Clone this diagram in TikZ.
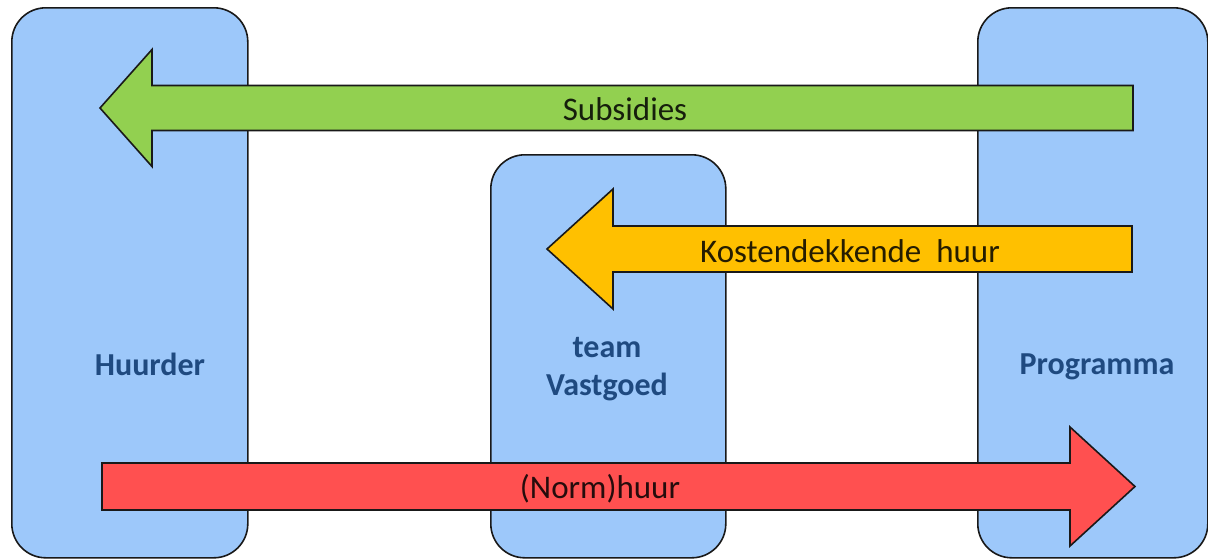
\documentclass[tikz,border=0pt]{standalone}
\usepackage{fontspec}
\setmainfont{Carlito}
\definecolor{boxblue}{HTML}{9DC8FA}
\definecolor{labelblue}{HTML}{1F4A80}
\definecolor{arrgreen}{HTML}{92D050}
\definecolor{arrorange}{HTML}{FFC000}
\definecolor{arrred}{HTML}{FF5050}
\begin{document}
\begin{tikzpicture}[x=1pt,y=-1pt,
  actor/.style={draw=black!90, line width=1.6pt, fill=boxblue, rounded corners=34pt, anchor=north west, inner sep=0pt},
  actorlabel/.style={font=\bfseries\fontsize{32}{38}\selectfont, text=labelblue, anchor=base, inner sep=0pt},
  blockarrow/.style={draw=black!90, line width=1.6pt, line join=miter},
  arrowlabel/.style={font=\fontsize{33}{38}\selectfont, anchor=base, inner sep=0pt}]
\useasboundingbox (0,0) rectangle (1208,558);
% actor boxes
\node[actor, minimum width=236pt, minimum height=550pt] (huurder) at (11,7) {};
\node[actor, minimum width=235pt, minimum height=403pt] (vastgoed) at (490,154) {};
\node[actor, minimum width=230pt, minimum height=550pt] (programma) at (977,7) {};
% actor labels
\node[actorlabel] (lhuurder) at (150,375) {Huurder};
\node[actorlabel] (lteam) at (607,357) {team};
\node[actorlabel] (lvastgoed) at (607,395) {Vastgoed};
\node[actorlabel] (lprogramma) at (1097,374) {Programma};
% Subsidies arrow (green)
\filldraw[blockarrow, fill=arrgreen] (1133,85.5) -- (152,85.5) -- (152,49.5) -- (100,108) -- (152,166.5) -- (152,130.5) -- (1133,130.5) -- cycle;
\node[arrowlabel, text=arrgreen!15!black] (lsub) at (625,120) {Subsidies};
% Kostendekkende huur arrow (orange)
\filldraw[blockarrow, fill=arrorange] (1132,226) -- (613,226) -- (613,189) -- (547,249) -- (613,309) -- (613,272) -- (1132,272) -- cycle;
\node[arrowlabel, text=arrorange!15!black] (lkost) at (850,262) {Kostendekkende\ \ huur};
% (Norm)huur arrow (red)
\filldraw[blockarrow, fill=arrred] (102,463) -- (1070,463) -- (1070,427) -- (1135,486.5) -- (1070,546) -- (1070,510) -- (102,510) -- cycle;
\node[arrowlabel, text=arrred!15!black] (lnorm) at (600,498) {(Norm)huur};
\end{tikzpicture}
\end{document}
